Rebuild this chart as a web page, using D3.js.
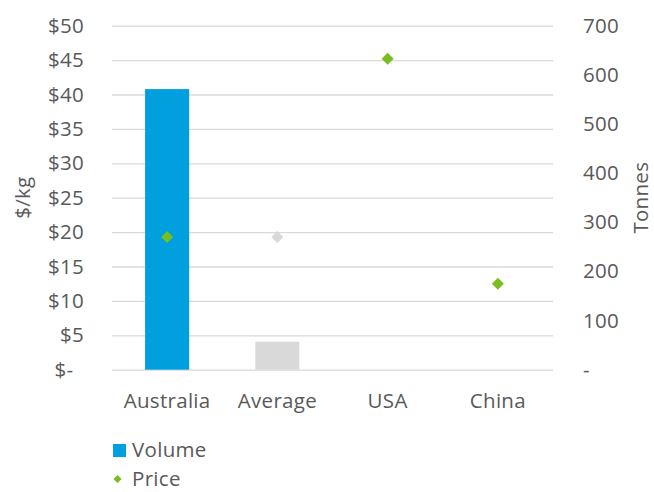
<!DOCTYPE html>
<html>
<head>
<meta charset="utf-8">
<script src="https://cdn.jsdelivr.net/npm/d3@7"></script>
<style>
  html, body { margin: 0; padding: 0; background: #fff; }
  svg { display: block; font-family: "Open Sans", sans-serif; }
  text { fill: #595959; }
</style>
</head>
<body>
<svg id="chart" width="654" height="492"></svg>
<script>
// Categories and series
const categories = ["Australia", "Average", "USA", "China"];
const volume = [571, 57, null, null];          // tonnes (right axis)
const price = [19.3, 19.3, 45.2, 12.5];        // $/kg (left axis)
const highlight = [false, true, false, false]; // the average is shown in grey

// Axis ticks and labels
const priceTicks = [0, 5, 10, 15, 20, 25, 30, 35, 40, 45, 50];
const priceTickLabels = ["$-\u2002", "$5", "$10", "$15", "$20", "$25", "$30", "$35", "$40", "$45", "$50"];
const tonneTicks = [0, 100, 200, 300, 400, 500, 600, 700];
const tonneTickLabels = ["-", "100", "200", "300", "400", "500", "600", "700"];

const legendItems = ["Volume", "Price"];

const colors = {
  volume: "#00A0DF",
  price: "#78BE1E",
  average: "#D9D9D9",
  grid: "#D9D9D9"
};

const svg = d3.select("#chart");
const plot = { left: 112, right: 553, top: 25.7, bottom: 369.7 };
const fontSize = 20.5;

const x = d3.scaleBand().domain(categories).range([plot.left, plot.right]).padding(0);
const yPrice = d3.scaleLinear().domain([0, 50]).range([plot.bottom, plot.top]);
const yTonnes = d3.scaleLinear().domain([0, 700]).range([plot.bottom, plot.top]);

function styleText(sel) {
  sel.attr("font-size", fontSize)
    .attr("font-family", "'Open Sans', sans-serif")
    .attr("letter-spacing", 0.3)
    .attr("fill", "#595959");
}

// Gridlines (aligned to the price axis)
const leftAxis = d3.axisLeft(yPrice)
  .tickValues(priceTicks)
  .tickSize(-(plot.right - plot.left))
  .tickPadding(28)
  .tickFormat((d, i) => priceTickLabels[i]);

const gL = svg.append("g")
  .attr("transform", `translate(${plot.left},0)`)
  .call(leftAxis);
gL.select(".domain").remove();
gL.selectAll(".tick line").attr("stroke", colors.grid).attr("stroke-width", 1.3);
gL.selectAll(".tick text").call(styleText).style("white-space", "pre");

// Right axis: tonnes
const rightAxis = d3.axisRight(yTonnes)
  .tickValues(tonneTicks)
  .tickSize(0)
  .tickPadding(30)
  .tickFormat((d, i) => tonneTickLabels[i]);

const gR = svg.append("g")
  .attr("transform", `translate(${plot.right},0)`)
  .call(rightAxis);
gR.select(".domain").remove();
gR.selectAll(".tick text").call(styleText);

// Volume bars
const barWidth = x.bandwidth() * 0.4;
svg.append("g")
  .selectAll("rect")
  .data(categories.map((c, i) => ({ c, v: volume[i], avg: highlight[i] })).filter(d => d.v != null))
  .join("rect")
  .attr("x", d => x(d.c) + x.bandwidth() / 2 - barWidth / 2)
  .attr("width", barWidth)
  .attr("y", d => yTonnes(d.v))
  .attr("height", d => yTonnes(0) - yTonnes(d.v))
  .attr("fill", d => d.avg ? colors.average : colors.volume);

// Price markers (square diamonds)
const diamond = d3.symbol().type(d3.symbolSquare).size(72);
svg.append("g")
  .selectAll("path")
  .data(categories.map((c, i) => ({ c, v: price[i], avg: highlight[i] })))
  .join("path")
  .attr("d", diamond)
  .attr("transform", d => `translate(${x(d.c) + x.bandwidth() / 2},${yPrice(d.v)}) rotate(45)`)
  .attr("fill", d => d.avg ? colors.average : colors.price);

// Category labels
const xAxis = d3.axisBottom(x).tickSize(0).tickPadding(24);
const gX = svg.append("g")
  .attr("transform", `translate(0,${plot.bottom})`)
  .call(xAxis);
gX.select(".domain").remove();
gX.selectAll(".tick text").call(styleText);

// Axis titles
svg.append("text")
  .attr("transform", `translate(30,${(plot.top + plot.bottom) / 2}) rotate(-90)`)
  .attr("text-anchor", "middle")
  .call(styleText)
  .text("$/kg");

svg.append("text")
  .attr("transform", `translate(648,${(plot.top + plot.bottom) / 2}) rotate(-90)`)
  .attr("text-anchor", "middle")
  .call(styleText)
  .text("Tonnes");

// Legend
const legend = svg.append("g");
legend.append("rect")
  .attr("x", 113).attr("y", 444).attr("width", 13).attr("height", 13)
  .attr("fill", colors.volume);
legend.append("text")
  .attr("x", 132).attr("y", 457)
  .call(styleText)
  .text(legendItems[0]);
legend.append("path")
  .attr("d", d3.symbol().type(d3.symbolSquare).size(34)())
  .attr("transform", "translate(117.5,479) rotate(45)")
  .attr("fill", colors.price);
legend.append("text")
  .attr("x", 132).attr("y", 486)
  .call(styleText)
  .text(legendItems[1]);
</script>
</body>
</html>
